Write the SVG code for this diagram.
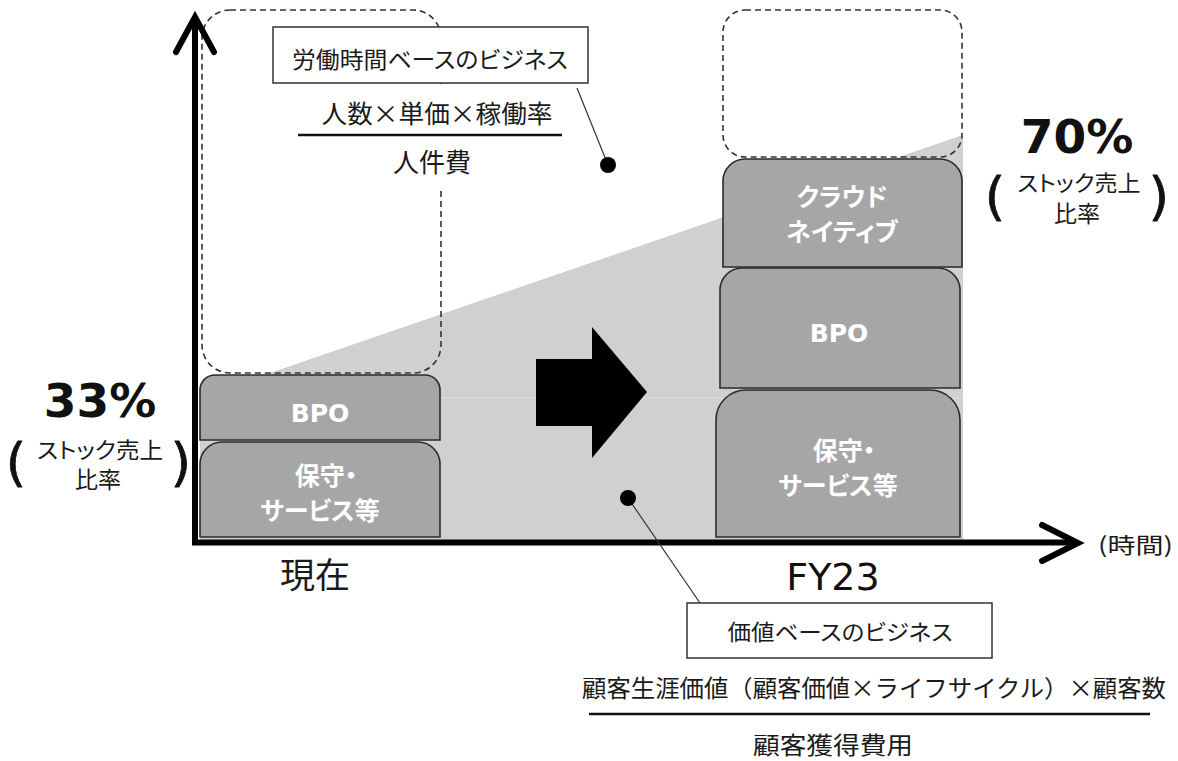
<svg xmlns="http://www.w3.org/2000/svg" width="1178" height="761" viewBox="0 0 1178 761">
<style>
.jp{font-family:"Noto Sans CJK JP","Noto Sans",sans-serif;font-feature-settings:"palt";fill:#1a1a1a;}
.jpn{font-family:"Noto Sans CJK JP","Noto Sans",sans-serif;fill:#1a1a1a;}
.bx{font-family:"DejaVu Sans","Noto Sans CJK JP",sans-serif;font-weight:bold;fill:#ffffff;font-feature-settings:"palt";}
.pct{font-family:"DejaVu Sans",sans-serif;font-weight:bold;fill:#111;}
.par{font-family:"DejaVu Sans",sans-serif;fill:#111;stroke:#111;stroke-width:0.8;}
.lbl{font-family:"DejaVu Sans","Noto Sans CJK JP",sans-serif;fill:#111;}
.stack{fill:#a6a6a6;stroke:#2a2a2a;stroke-width:1.6;}
.dash{fill:none;stroke:#333;stroke-width:1.6;stroke-dasharray:6 4;}
.axis{fill:none;stroke:#000;stroke-width:6;}
.call{fill:#fff;stroke:#333;stroke-width:1.5;}
.lead{stroke:#333;stroke-width:1.2;fill:none;}
</style>
<rect width="1178" height="761" fill="#fff"/>
<g id="growth-area">
<polygon points="200,397 963,135 963,540 200,540" fill="#d0d0d0"/>
<line x1="200" y1="398" x2="963" y2="398" stroke="#dedede" stroke-width="1"/>
</g>
<g id="potential-now"><rect class="dash" x="202" y="10" width="239" height="363" rx="28"/></g>
<g id="potential-fy23"><rect class="dash" x="723" y="10" width="239" height="147" rx="22"/></g>
<g id="now-bpo">
<path class="stack" d="M200,440 V390 A15,15 0 0 1 215,375 H425 A15,15 0 0 1 440,390 V440 Z"/>
<text class="bx" x="320" y="422" font-size="25" text-anchor="middle">BPO</text>
</g>
<g id="now-maint">
<path class="stack" d="M200,537 V464 A22,22 0 0 1 222,442 H418 A22,22 0 0 1 440,464 V537 Z"/>
<text class="bx" x="326" y="485" font-size="25" text-anchor="middle">保守・</text>
<text class="bx" x="320" y="520" font-size="25" text-anchor="middle">サービス等</text>
</g>
<g id="fy23-cloud">
<path class="stack" d="M723,267 V181 A22,22 0 0 1 745,159 H940 A22,22 0 0 1 962,181 V267 Z"/>
<text class="bx" x="842" y="206" font-size="25" text-anchor="middle">クラウド</text>
<text class="bx" x="842" y="241" font-size="25" text-anchor="middle">ネイティブ</text>
</g>
<g id="fy23-bpo">
<path class="stack" d="M720,388 V290 A22,22 0 0 1 742,268 H938 A22,22 0 0 1 960,290 V388 Z"/>
<text class="bx" x="839" y="342" font-size="25" text-anchor="middle">BPO</text>
</g>
<g id="fy23-maint">
<path class="stack" d="M716,537 V420 A30,30 0 0 1 746,390 H930 A30,30 0 0 1 960,420 V537 Z"/>
<text class="bx" x="844" y="460" font-size="25" text-anchor="middle">保守・</text>
<text class="bx" x="838" y="495" font-size="25" text-anchor="middle">サービス等</text>
</g>
<g id="axes">
<line class="axis" x1="195" y1="545" x2="195" y2="18" stroke-width="5"/>
<polyline class="axis" points="176,52 195,17 214,52" stroke-linecap="round"/>
<line class="axis" x1="192" y1="542.5" x2="1077" y2="542.5" stroke-width="5"/>
<polyline class="axis" points="1042,525 1078,543 1042,561" stroke-linecap="round"/>
</g>
<g id="shift-arrow">
<polygon points="536,359 592,359 592,327 647,392 592,458 592,426 536,426" fill="#000"/>
</g>
<g id="labor-callout">
<rect x="290" y="84" width="285" height="104" fill="#fff"/>
<rect class="call" x="273" y="27" width="315" height="56"/>
<text class="jp" x="430" y="68" font-size="23" text-anchor="middle" textLength="276" lengthAdjust="spacingAndGlyphs">労働時間ベースのビジネス</text>
<text class="jp" x="437" y="123" font-size="25" text-anchor="middle" textLength="231" lengthAdjust="spacingAndGlyphs">人数×単価×稼働率</text>
<line x1="298" y1="135" x2="562" y2="135" stroke="#111" stroke-width="2.5"/>
<text class="jp" x="432" y="172" font-size="26" text-anchor="middle">人件費</text>
</g>
<g id="value-callout">
<rect class="call" x="687" y="603" width="305" height="55"/>
<text class="jp" x="840" y="640" font-size="22" text-anchor="middle" textLength="225" lengthAdjust="spacingAndGlyphs">価値ベースのビジネス</text>
<text class="jpn" x="874" y="697" font-size="24" text-anchor="middle" textLength="584" lengthAdjust="spacingAndGlyphs">顧客生涯価値（顧客価値×ライフサイクル）×顧客数</text>
<line x1="589" y1="714" x2="1150" y2="714" stroke="#111" stroke-width="2.5"/>
<text class="jp" x="833" y="754" font-size="24" text-anchor="middle" textLength="160" lengthAdjust="spacingAndGlyphs">顧客獲得費用</text>
</g>
<g id="connectors">
<line class="lead" x1="577" y1="88" x2="608" y2="165"/>
<circle cx="608" cy="165" r="8" fill="#000"/>
<line class="lead" x1="628" y1="498" x2="700" y2="603"/>
<circle cx="628" cy="498" r="8" fill="#000"/>
</g>
<g id="ratio-now">
<text class="pct" x="100" y="417" font-size="47" text-anchor="middle">33%</text>
<text class="par" x="16" y="480" font-size="52" text-anchor="middle">(</text>
<text class="par" x="181" y="480" font-size="52" text-anchor="middle">)</text>
<text class="jp" x="100" y="458" font-size="22" text-anchor="middle" textLength="126" lengthAdjust="spacingAndGlyphs">ストック売上</text>
<text class="jp" x="98" y="488" font-size="23" text-anchor="middle">比率</text>
</g>
<g id="ratio-fy23">
<text class="pct" x="1077" y="153" font-size="47" text-anchor="middle">70%</text>
<text class="par" x="995" y="214" font-size="52" text-anchor="middle">(</text>
<text class="par" x="1159" y="214" font-size="52" text-anchor="middle">)</text>
<text class="jp" x="1079" y="191" font-size="22" text-anchor="middle" textLength="123" lengthAdjust="spacingAndGlyphs">ストック売上</text>
<text class="jp" x="1077" y="222" font-size="23" text-anchor="middle">比率</text>
</g>
<g id="axis-labels">
<text class="jp" x="315" y="588" font-size="35" text-anchor="middle">現在</text>
<text class="lbl" x="833" y="590" font-size="38" text-anchor="middle">FY23</text>
<text class="jpn" x="1098" y="553" font-size="22" textLength="75" lengthAdjust="spacingAndGlyphs">(時間)</text>
</g>
</svg>
